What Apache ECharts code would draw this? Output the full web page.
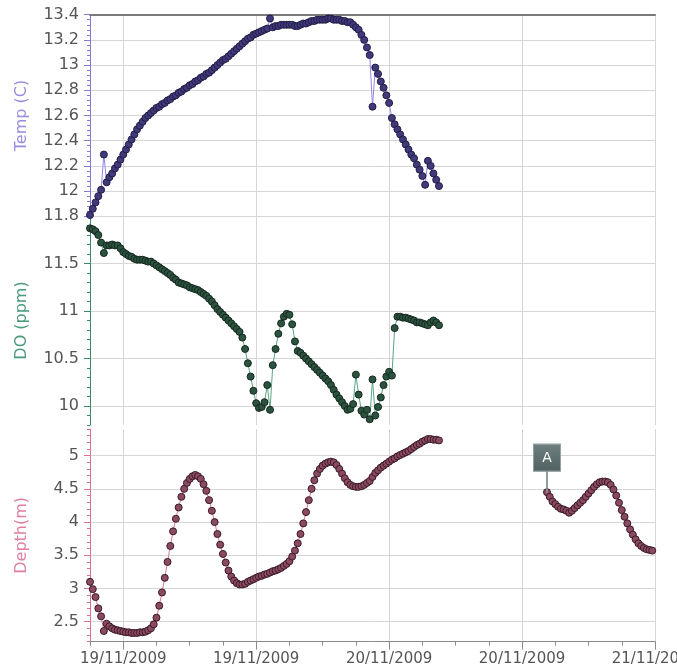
<!DOCTYPE html>
<html><head><meta charset="utf-8">
<script src="https://cdn.jsdelivr.net/npm/echarts@6/dist/echarts.min.js"></script>
<style>html,body{margin:0;padding:0;background:#fff}#c{width:677px;height:668px}</style>
</head><body><div id="c"></div>
<script>
// time in hours from the axis start; samples every 15 minutes
const stepHours = 0.25;
const xMaxHours = 51;
const xLabelHours = [3, 15, 27, 39, 51];
const xTickLabels = ['19/11/2009', '19/11/2009', '20/11/2009', '20/11/2009', '21/11/2009'];

const tempValues = [
  11.81, 11.86, 11.91, 11.96, 12.01, 12.29, 12.07, 12.11, 12.14, 12.18,
  12.21, 12.25, 12.29, 12.33, 12.37, 12.41, 12.45, 12.49, 12.52, 12.55,
  12.58, 12.60, 12.62, 12.64, 12.66, 12.67, 12.69, 12.70, 12.72, 12.73,
  12.75, 12.76, 12.78, 12.79, 12.81, 12.82, 12.84, 12.85, 12.87, 12.88,
  12.90, 12.91, 12.93, 12.94, 12.96, 12.98, 13.00, 13.02, 13.04, 13.05,
  13.07, 13.09, 13.11, 13.13, 13.15, 13.17, 13.19, 13.21, 13.22, 13.24,
  13.25, 13.26, 13.27, 13.28, 13.29, 13.37, 13.30, 13.31, 13.31, 13.32,
  13.32, 13.32, 13.32, 13.32, 13.31, 13.31, 13.32, 13.33, 13.33, 13.34,
  13.35, 13.35, 13.36, 13.36, 13.36, 13.36, 13.37, 13.37, 13.36, 13.36,
  13.36, 13.35, 13.35, 13.34, 13.34, 13.32, 13.30, 13.28, 13.24, 13.20,
  13.14, 13.08, 12.67, 12.98, 12.93, 12.87, 12.82, 12.76, 12.70, 12.58,
  12.53, 12.49, 12.45, 12.41, 12.37, 12.33, 12.29, 12.26, 12.21, 12.17,
  12.12, 12.05, 12.24, 12.20, 12.14, 12.09, 12.04
];

const doValues = [
  11.87, 11.86, 11.84, 11.80, 11.72, 11.61, 11.69, 11.69, 11.70, 11.69,
  11.69, 11.66, 11.62, 11.60, 11.58, 11.57, 11.55, 11.54, 11.54, 11.54,
  11.53, 11.52, 11.52, 11.50, 11.48, 11.46, 11.44, 11.42, 11.40, 11.38,
  11.35, 11.33, 11.30, 11.29, 11.28, 11.27, 11.25, 11.24, 11.23, 11.22,
  11.20, 11.18, 11.16, 11.13, 11.10, 11.06, 11.02, 10.99, 10.96, 10.93,
  10.90, 10.87, 10.84, 10.81, 10.78, 10.72, 10.60, 10.45, 10.31, 10.16,
  10.03, 9.98, 9.99, 10.04, 10.22, 9.96, 10.43, 10.60, 10.76, 10.87,
  10.94, 10.97, 10.96, 10.86, 10.68, 10.58, 10.56, 10.53, 10.50, 10.47,
  10.44, 10.41, 10.38, 10.35, 10.32, 10.29, 10.26, 10.22, 10.17, 10.12,
  10.08, 10.04, 10.00, 9.96, 9.97, 10.02, 10.33, 10.12, 9.95, 9.91,
  9.96, 9.86, 10.28, 9.90, 9.99, 10.09, 10.22, 10.31, 10.36, 10.32,
  10.82, 10.94, 10.94, 10.93, 10.93, 10.92, 10.91, 10.90, 10.88, 10.88,
  10.87, 10.86, 10.85, 10.88, 10.90, 10.88, 10.85
];

const depthValues = [
  3.10, 2.99, 2.87, 2.70, 2.58, 2.36, 2.47, 2.43, 2.40, 2.38,
  2.37, 2.36, 2.35, 2.34, 2.34, 2.33, 2.33, 2.33, 2.34, 2.34,
  2.35, 2.37, 2.40, 2.46, 2.56, 2.74, 2.94, 3.16, 3.40, 3.64,
  3.86, 4.05, 4.22, 4.38, 4.50, 4.59, 4.65, 4.69, 4.71, 4.69,
  4.65, 4.57, 4.47, 4.33, 4.17, 4.00, 3.82, 3.66, 3.52, 3.39,
  3.27, 3.18, 3.12, 3.08, 3.06, 3.06, 3.07, 3.10, 3.12, 3.14,
  3.16, 3.18, 3.19, 3.21, 3.22, 3.24, 3.26, 3.27, 3.29, 3.31,
  3.34, 3.37, 3.41, 3.48, 3.57, 3.68, 3.82, 3.98, 4.15, 4.33,
  4.50, 4.63, 4.73, 4.80, 4.85, 4.88, 4.90, 4.91, 4.90, 4.86,
  4.80, 4.73, 4.66, 4.60, 4.56, 4.54, 4.53, 4.53, 4.54, 4.56,
  4.59, 4.62, 4.68, 4.74, 4.78, 4.82, 4.85, 4.88, 4.91, 4.94,
  4.96, 4.99, 5.01, 5.03, 5.05, 5.07, 5.10, 5.13, 5.16, 5.18,
  5.21, 5.23, 5.25, 5.25, 5.24, 5.24, 5.23
];

// second depth segment begins at sample index 165
const depthSeg2Start = 165;
const depthSeg2Values = [
  4.45, 4.38, 4.31, 4.27, 4.23, 4.20, 4.19, 4.17, 4.14, 4.17,
  4.21, 4.25, 4.29, 4.33, 4.38, 4.43, 4.48, 4.53, 4.57, 4.60,
  4.61, 4.61, 4.60, 4.56, 4.49, 4.40, 4.29, 4.18, 4.08, 3.98,
  3.89, 3.81, 3.74, 3.68, 3.64, 3.61, 3.59, 3.58, 3.57
];
const annotationLabel = 'A';

const FONT = 'DejaVu Sans';
const GRID = '#d6d6d6';

const tempData = tempValues.map((v, i) => [i * stepHours, v]);
const doData = doValues.map((v, i) => [i * stepHours, v]);
const depthData = depthValues.map((v, i) => [i * stepHours, v])
  .concat([[depthValues.length * stepHours, null]])
  .concat(depthSeg2Values.map((v, i) => [(depthSeg2Start + i) * stepHours, v]));

const grids = [
  { left: 90, right: 22, top: 14.7, height: 201.6, outerBoundsMode: 'none', containLabel: false },
  { left: 90, right: 22, top: 216, height: 209, outerBoundsMode: 'none', containLabel: false },
  { left: 90, right: 22, top: 429.1, height: 212.5, outerBoundsMode: 'none', containLabel: false }
];

function xBase(gi) {
  return {
    type: 'value', gridIndex: gi, min: 0, max: xMaxHours, interval: 3,
    axisLine: { show: false }, axisTick: { show: false }, axisLabel: { show: false },
    splitLine: { show: true, lineStyle: { color: ['transparent', GRID, 'transparent', 'transparent'] } }
  };
}

const xAxes = [
  xBase(0),
  xBase(1),
  Object.assign(xBase(2), {
    axisLine: { show: true, lineStyle: { color: '#8a8a8a' } },
    axisTick: { show: true, length: 4, lineStyle: { color: '#8a8a8a' } },
    axisLabel: {
      show: true, color: '#555', fontSize: 15, fontFamily: FONT, margin: 10,
      showMaxLabel: true, showMinLabel: true,
      formatter: v => { const k = xLabelHours.indexOf(Math.round(v)); return k >= 0 ? xTickLabels[k] : ''; }
    }
  }),
  {
    type: 'value', gridIndex: 2, min: 0, max: xMaxHours, interval: 3, position: 'bottom',
    axisLine: { show: false }, axisLabel: { show: false }, splitLine: { show: false },
    axisTick: { show: true, length: 8, customValues: xLabelHours, lineStyle: { color: '#8a8a8a' } }
  },
  {
    type: 'value', gridIndex: 0, min: 0, max: xMaxHours, position: 'top',
    axisLine: { show: true, lineStyle: { color: '#7a7a7a', width: 2 } },
    axisTick: { show: false }, axisLabel: { show: false }, splitLine: { show: false }
  }
];

function halfMultiple(v) { return Math.abs(v * 2 - Math.round(v * 2)) < 1e-6; }

function yName(name, color) {
  return {
    name, nameLocation: 'middle', nameGap: 60,
    nameTextStyle: { color, fontSize: 16, fontFamily: FONT }
  };
}

const yAxes = [
  Object.assign({
    type: 'value', gridIndex: 0, min: 11.8, max: 13.4, interval: 0.2, position: 'left',
    axisLine: { show: true, lineStyle: { color: '#8a7ad8' } },
    axisTick: { show: true, length: 6, lineStyle: { color: '#8a7ad8' } },
    minorTick: { show: true, splitNumber: 5, length: 3, lineStyle: { color: '#8a7ad8' } },
    axisLabel: { color: '#555', fontSize: 16, fontFamily: FONT, margin: 11 },
    splitLine: { show: true, lineStyle: { color: GRID } }
  }, yName('Temp (C)', '#9a8ee2')),
  Object.assign({
    type: 'value', gridIndex: 1, min: 9.8, max: 12.0, interval: 0.1, position: 'left',
    axisLine: { show: true, lineStyle: { color: '#3a8a6a' } },
    axisTick: { show: true, length: 3, lineStyle: { color: '#3a8a6a' } },
    axisLabel: {
      color: '#555', fontSize: 16, fontFamily: FONT, margin: 11,
      formatter: v => (halfMultiple(v) && v < 11.9) ? String(+v.toFixed(1)) : ''
    },
    splitLine: { show: true, lineStyle: { color: ['transparent', 'transparent', GRID, 'transparent', 'transparent'] } }
  }, yName('DO (ppm)', '#4a9a7a')),
  {
    type: 'value', gridIndex: 1, min: 9.8, max: 12.0, interval: 0.1, position: 'left', offset: 0,
    axisLine: { show: false }, axisLabel: { show: false }, splitLine: { show: false },
    axisTick: { show: true, length: 6, customValues: [10, 10.5, 11, 11.5], lineStyle: { color: '#3a8a6a' } }
  },
  Object.assign({
    type: 'value', gridIndex: 2, min: 2.2, max: 5.4, interval: 0.1, position: 'left',
    axisLine: { show: true, lineStyle: { color: '#e07090' } },
    axisTick: { show: true, length: 3, lineStyle: { color: '#e07090' } },
    axisLabel: {
      color: '#555', fontSize: 16, fontFamily: FONT, margin: 11,
      formatter: v => halfMultiple(v) ? String(+v.toFixed(1)) : ''
    },
    splitLine: { show: true, lineStyle: { color: ['transparent', 'transparent', 'transparent', GRID, 'transparent'] } }
  }, yName('Depth(m)', '#e080a0')),
  {
    type: 'value', gridIndex: 2, min: 2.2, max: 5.4, interval: 0.1, position: 'left', offset: 0,
    axisLine: { show: false }, axisLabel: { show: false }, splitLine: { show: false },
    axisTick: { show: true, length: 6, customValues: [2.5, 3, 3.5, 4, 4.5, 5], lineStyle: { color: '#e07090' } }
  }
];

function lineSeries(data, xi, yi, lineColor, fill, border) {
  return {
    type: 'line', xAxisIndex: xi, yAxisIndex: yi, data,
    symbol: 'circle', symbolSize: 7, showSymbol: true, connectNulls: false,
    lineStyle: { color: lineColor, width: 1 },
    itemStyle: { color: fill, borderColor: border, borderWidth: 1 },
    emphasis: { disabled: true }, animation: false
  };
}

const depthSeries = lineSeries(depthData, 2, 3, '#d87898', '#8a4a62', '#3c1a28');
depthSeries.markPoint = {
  symbol: 'path://M0,0L27,0L27,27L14,27L14,48L13,48L13,27L0,27Z',
  symbolSize: [27, 48], symbolOffset: [0, -24],
  itemStyle: {
    color: new echarts.graphic.LinearGradient(0, 0, 0, 1, [
      { offset: 0, color: '#6e7f7f' }, { offset: 1, color: '#3a4a4a' }
    ]),
    borderColor: '#8c9a9a', borderWidth: 1
  },
  label: { show: true, formatter: annotationLabel, color: '#fff', fontSize: 14, fontFamily: FONT, offset: [0, -10] },
  data: [{ coord: [depthSeg2Start * stepHours, depthSeg2Values[0]] }],
  animation: false
};

const chart = echarts.init(document.getElementById('c'), null, { renderer: 'canvas' });
chart.setOption({
  animation: false,
  backgroundColor: '#fff',
  grid: grids,
  xAxis: xAxes,
  yAxis: yAxes,
  series: [
    lineSeries(tempData, 0, 0, '#9585e8', '#40397a', '#221d48'),
    lineSeries(doData, 1, 1, '#5aa584', '#2c5240', '#152a1f'),
    depthSeries
  ]
});
</script></body></html>
